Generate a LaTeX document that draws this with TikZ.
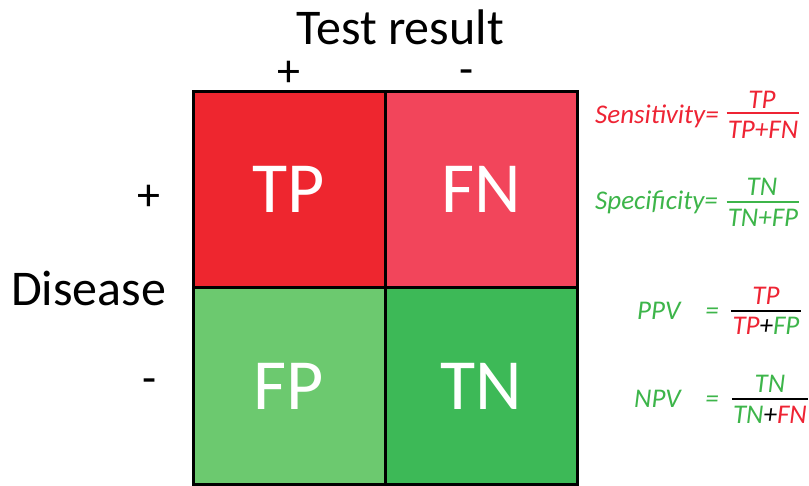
\documentclass[tikz,border=0pt]{standalone}
\usepackage{fontspec}
\setmainfont{Carlito}
\definecolor{tpfill}{HTML}{EE262F}
\definecolor{fnfill}{HTML}{F2455B}
\definecolor{fpfill}{HTML}{6CC96F}
\definecolor{tnfill}{HTML}{3DB957}
\definecolor{redtxt}{HTML}{EE2434}
\definecolor{greentxt}{HTML}{3DB54A}
\tikzset{
  cell/.style={draw=black, line width=3pt, minimum width=192pt, minimum height=196.5pt,
    inner sep=0pt, text=white, font=\fontsize{72}{80}\selectfont},
  axislabel/.style={inner sep=0pt, font=\fontsize{50}{56}\selectfont},
  sign/.style={inner sep=0pt, anchor=base, font=\fontsize{46}{52}\selectfont},
  ftext/.style={inner sep=0pt, anchor=base, font=\fontsize{27}{32}\selectfont\itshape},
  fbar/.style={line width=1.5pt},
}
\begin{document}
\begin{tikzpicture}[x=1pt, y=-1pt]
\useasboundingbox (0,0) rectangle (809,486);

% 2x2 table of outcomes
\node[cell, fill=tpfill] (tp) at (289,189.5) {TP};
\node[cell, fill=fnfill] (fn) at (481,189.5) {FN};
\node[cell, fill=fpfill] (fp) at (289,386) {FP};
\node[cell, fill=tnfill] (tn) at (481,386) {TN};

% axis titles and signs
\node[axislabel, anchor=base] (testres) at (400,45) {Test result};
\node[axislabel, anchor=base west] (disease) at (11,306) {Disease};
\node[sign] (tplus) at (289,87) {+};
\node[sign] (tminus) at (467,85) {-};
\node[sign] (dplus) at (149,211) {+};
\node[sign] (dminus) at (150,394) {-};

% Sensitivity
\node[ftext, anchor=base west, text=redtxt] (senslab) at (595,124) {Sensitivity=};
\node[ftext, text=redtxt] (sensnum) at (762,109) {TP};
\node[ftext, text=redtxt] (sensden) at (763,139) {TP+FN};
\coordinate (sensbar) at (763,113);
\draw[fbar, redtxt] ([xshift=-1pt]sensden.west |- sensbar) -- ([xshift=1pt]sensden.east |- sensbar);

% Specificity
\node[ftext, anchor=base west, text=greentxt] (speclab) at (595,210) {Specificity=};
\node[ftext, text=greentxt] (specnum) at (762,196) {TN};
\node[ftext, text=greentxt] (specden) at (763,227) {TN+FP};
\coordinate (specbar) at (763,202);
\draw[fbar, greentxt] ([xshift=-1pt]specden.west |- specbar) -- ([xshift=1pt]specden.east |- specbar);

% PPV
\node[ftext, anchor=base west, text=greentxt] (ppvlab) at (637,320) {PPV};
\node[ftext, text=greentxt] (ppveq) at (712,320) {=};
\node[ftext, text=redtxt] (ppvnum) at (766,305) {TP};
\node[ftext] (ppvden) at (766,335) {\textcolor{redtxt}{TP}+\textcolor{greentxt}{FP}};
\coordinate (ppvbar) at (766,311);
\draw[fbar, black] ([xshift=-1pt]ppvden.west |- ppvbar) -- ([xshift=1pt]ppvden.east |- ppvbar);

% NPV
\node[ftext, anchor=base west, text=greentxt] (npvlab) at (634,407) {NPV};
\node[ftext, text=greentxt] (npveq) at (712,407) {=};
\node[ftext, text=greentxt] (npvnum) at (770,392) {TN};
\node[ftext] (npvden) at (770,423) {\textcolor{greentxt}{TN}+\textcolor{redtxt}{FN}};
\coordinate (npvbar) at (770,399);
\draw[fbar, black] ([xshift=-1pt]npvden.west |- npvbar) -- ([xshift=1pt]npvden.east |- npvbar);
\end{tikzpicture}
\end{document}
